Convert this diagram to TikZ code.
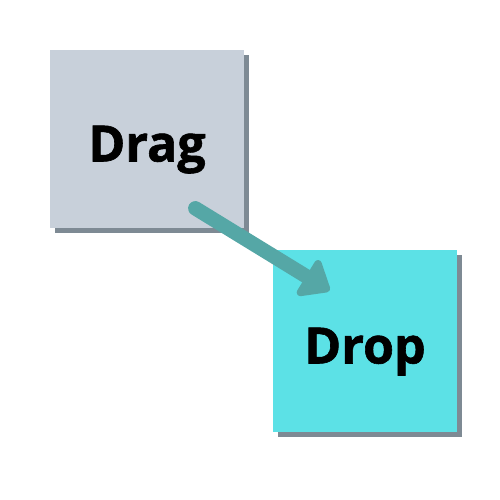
\documentclass[tikz,border=0pt]{standalone}
\usepackage{fontspec}
\setmainfont{Open Sans}[BoldFeatures={FakeBold=1.2}]
\usetikzlibrary{calc}
\usetikzlibrary{arrows.meta}
\usetikzlibrary{shadows}
\definecolor{cardgray}{HTML}{C8D0DA}
\definecolor{cardcyan}{HTML}{5CE1E6}
\definecolor{cardshadow}{HTML}{7E8A94}
\definecolor{arrowteal}{HTML}{55A7A6}

\begin{document}
\begin{tikzpicture}[
	card/.style={inner sep=0pt, text height=0.9cm, text depth=0pt,
		font=\fontsize{28.5}{30}\selectfont\bfseries,
		drop shadow={shadow xshift=0.1cm, shadow yshift=-0.1cm, fill=cardshadow, opacity=1}},
	movearrow/.style={color=arrowteal, line width=0.29cm, line cap=round,
		-{Triangle[round, length=0.6cm, width=0.95cm]}}
	]
	\useasboundingbox (0, 0) rectangle (10, 10);

	\node[card, fill=cardgray, minimum width=3.88cm, minimum height=3.56cm] (drag) at (2.94, 7.22) {Drag};
	\node[card, fill=cardcyan, minimum width=3.68cm, minimum height=3.64cm] (drop) at (7.30, 3.18) {Drop};

	\coordinate (grab) at ($(drag.south east) + (-0.98, 0.40)$);
	\coordinate (release) at ($(drop.north west) + (1.14, -0.82)$);

	\draw[movearrow] (grab) -- (release);

\end{tikzpicture}
\end{document}
